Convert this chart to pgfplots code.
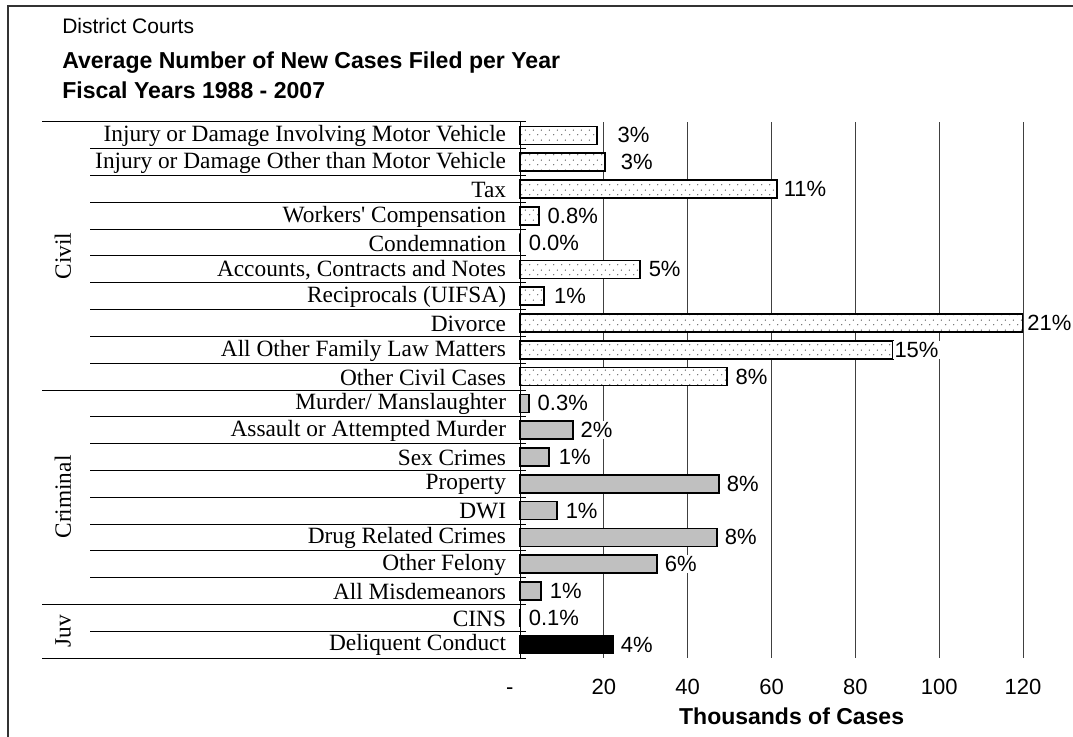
\documentclass[border=0pt]{standalone}
\usepackage{fontspec}
\setmainfont{Liberation Sans}
\newfontfamily\tnr{Liberation Serif}
\usepackage{pgfplots}
\pgfplotsset{compat=1.18}
\usepackage{pgfplotstable}
\usetikzlibrary{patterns.meta}

\tikzdeclarepattern{
  name=mydots,
  type=uncolored,
  bounding box={(0pt,0pt) and (6pt,7.5pt)},
  tile size={(6pt,7.5pt)},
  code={
    \fill (1.5pt,1.875pt) circle (0.55pt);
    \fill (4.5pt,5.625pt) circle (0.55pt);
  }
}

% row value label label-gap(px)
\pgfplotstableread{
row val lab dx
0 18.3 3 18
1 20.3 3 13
2 61.3 11 4
3 4.5 0.8 6
4 0.0 0.0 6
5 28.6 5 6
6 5.8 1 7
7 119.9 21 2
8 88.9 15 -1
9 49.3 8 6
}\civil
\pgfplotstableread{
row val lab dx
10 2.1 0.3 6
11 12.6 2 5
12 6.9 1 7
13 47.5 8 5
14 8.8 1 6
15 47.0 8 5
16 32.7 6 5
17 5.0 1 6
}\criminal
\pgfplotstableread{
row val lab dx
18 0.0 0.1 6
19 22.2 4 5
}\juv

\begin{document}
\begin{tikzpicture}[x=0.75pt,y=0.75pt]
\path[use as bounding box] (0,0) rectangle (1073,736);
\begin{axis}[
  at={(390pt,58.5pt)}, anchor=south west,
  scale only axis, width=377.25pt, height=402pt,
  xbar, bar width=13.5pt,
  xmin=0, xmax=120, ymin=-0.5, ymax=19.5, y dir=reverse,
  axis line style={draw=none},
  tick style={draw=none},
  xtick={0,20,40,60,80,100,120},
  xticklabels={{\makebox[0pt][r]{-\hspace{5pt}}\vphantom{0}},20,40,60,80,100,120},
  xmajorgrids, grid style={black!75, line width=0.75pt},
  ytick={0,1,...,19},
  yticklabels={
    Injury or Damage Involving Motor Vehicle,
    Injury or Damage Other than Motor Vehicle,
    Tax,
    Workers' Compensation,
    Condemnation,
    {Accounts, Contracts and Notes},
    Reciprocals (UIFSA),
    Divorce,
    All Other Family Law Matters,
    Other Civil Cases,
    Murder/ Manslaughter,
    Assault or Attempted Murder,
    Sex Crimes,
    Property,
    DWI,
    Drug Related Crimes,
    Other Felony,
    All Misdemeanors,
    CINS,
    Deliquent Conduct},
  yticklabel style={font=\tnr\fontsize{17.5pt}{19pt}\selectfont, anchor=east, inner sep=0pt, xshift=-6pt, yshift=-0.5pt},
  xticklabel style={font=\fontsize{16.5pt}{18pt}\selectfont, inner sep=0pt, yshift=-16pt},
  xlabel={Thousands of Cases},
  xlabel style={font=\bfseries\fontsize{17.25pt}{19pt}\selectfont, at={(axis description cs:0.54,0)}, anchor=center, yshift=-43.5pt},
  clip=false,
  point meta=explicit symbolic,
  nodes near coords={\pgfplotspointmeta\%},
  visualization depends on={\thisrow{dx} \as \dx},
  every node near coord/.append style={anchor=west, xshift=\dx*0.75pt, fill=white, inner xsep=1.5pt, inner ysep=1pt, font=\fontsize{16.5pt}{18pt}\selectfont, text=black},
]
\addplot[fill=white, draw=black, line width=1.3pt, bar shift=0pt,
  postaction={pattern=mydots, pattern color=black!70}]
  table[x=val, y=row, meta=lab] {\civil};
\addplot[fill={rgb,255:red,192;green,192;blue,192}, draw=black, line width=1.3pt, bar shift=0pt]
  table[x=val, y=row, meta=lab] {\criminal};
\addplot[fill=black, draw=black, line width=1.3pt, bar shift=0pt]
  table[x=val, y=row, meta=lab] {\juv};
\end{axis}
% left axis line
\draw[line width=0.75pt] (520,78) -- (520,614);
% row separators
\foreach \k in {1,2,3,4,5,6,7,8,9,11,12,13,14,15,16,17,19} {
  \draw[line width=0.75pt] (90,{614-26.8*\k}) -- (526,{614-26.8*\k});
}
\foreach \k in {0,10,18,20} {
  \draw[line width=0.75pt] (42,{614-26.8*\k}) -- (526,{614-26.8*\k});
}
% group labels
\node[rotate=90, font=\tnr\fontsize{17.5pt}{19pt}\selectfont] at (63,480) {Civil};
\node[rotate=90, font=\tnr\fontsize{17.5pt}{19pt}\selectfont] at (63,239) {Criminal};
\node[rotate=90, font=\tnr\fontsize{17.5pt}{19pt}\selectfont] at (63,105) {Juv};
% titles
\node[anchor=base west, inner sep=0pt, font=\fontsize{15.75pt}{18pt}\selectfont] at (62,702) {District Courts};
\node[anchor=base west, inner sep=0pt, font=\bfseries\fontsize{17.3pt}{19pt}\selectfont] at (62,667) {Average Number of New Cases Filed per Year};
\node[anchor=base west, inner sep=0pt, font=\bfseries\fontsize{17.3pt}{19pt}\selectfont] at (62,637) {Fiscal Years 1988 - 2007};
% frame
\draw[line width=1.2pt, black!80] (8,-10) -- (8,730) -- (1090,730);
\end{tikzpicture}
\end{document}
